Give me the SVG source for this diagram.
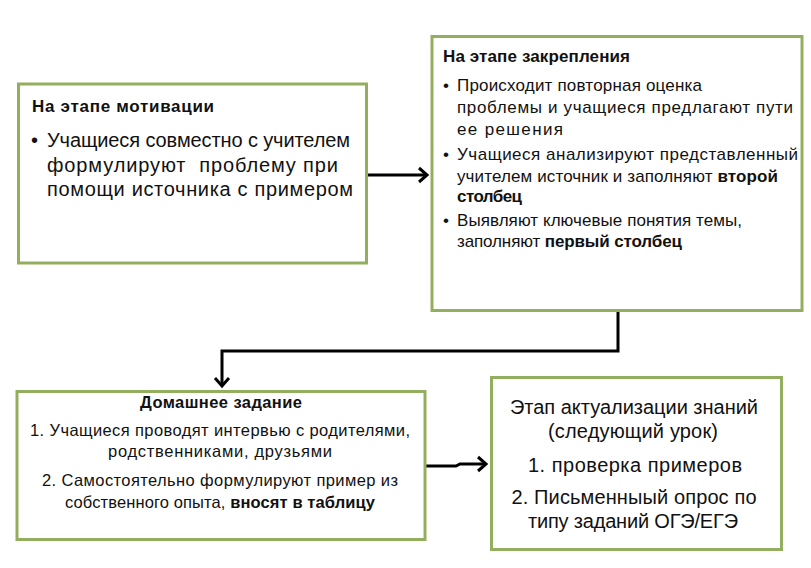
<svg xmlns="http://www.w3.org/2000/svg" width="811" height="568" viewBox="0 0 811 568">
<style>
.box{fill:#ffffff;stroke:#94AE5F;stroke-width:3}
text{font-family:"Liberation Sans",Arial,sans-serif;fill:#111111}
.b{font-weight:bold}
.t{font-weight:bold;font-size:17px}
.f20{font-size:20px}
.f17{font-size:17px}
.f16{font-size:16.5px}
.c{text-anchor:middle}
.conn{fill:none;stroke:#000000;stroke-width:3}
</style>
<defs>
<marker id="arr" markerUnits="userSpaceOnUse" markerWidth="16" markerHeight="18" refX="10" refY="9" orient="auto">
<path d="M2,2 L10,9 L2,16" fill="none" stroke="#000000" stroke-width="3"/>
</marker>
</defs>
<rect width="811" height="568" fill="#ffffff"/>
<g id="connectors">
<path class="conn" d="M367,175 H427" marker-end="url(#arr)"/>
<path class="conn" d="M618,311 V351 H222 V386" marker-end="url(#arr)"/>
<path class="conn" d="M425,466 H456 L460,464 H486" marker-end="url(#arr)"/>
</g>
<g id="motivation">
<rect class="box" x="18.5" y="84" width="348" height="179"/>
<text class="t" x="32" y="112" textLength="182">На этапе мотивации</text>
<text class="f20" x="31" y="147">•</text>
<text class="f20" x="47" y="147" textLength="303">Учащиеся совместно с учителем</text>
<text class="f20" x="47" y="172" textLength="291" xml:space="preserve">формулируют  проблему при</text>
<text class="f20" x="47" y="196" textLength="306">помощи источника с примером</text>
</g>
<g id="consolidation">
<rect class="box" x="432" y="36.5" width="370" height="274"/>
<text class="t" x="443" y="62" textLength="187">На этапе закрепления</text>
<text class="f17" x="443" y="91">•</text>
<text class="f17" x="457" y="91" textLength="245">Происходит повторная оценка</text>
<text class="f17" x="457" y="113" textLength="336">проблемы и учащиеся предлагают пути</text>
<text class="f17" x="457" y="135" textLength="106">ее решения</text>
<text class="f17" x="443" y="160">•</text>
<text class="f17" x="457" y="160" textLength="341">Учащиеся анализируют представленный</text>
<text class="f17" x="457" y="182" textLength="321">учителем источник и заполняют <tspan class="b">второй</tspan></text>
<text class="f17 b" x="457" y="202" textLength="65">столбец</text>
<text class="f17" x="443" y="226">•</text>
<text class="f17" x="457" y="226" textLength="285">Выявляют ключевые понятия темы,</text>
<text class="f17" x="457" y="247" textLength="225">заполняют <tspan class="b">первый столбец</tspan></text>
</g>
<g id="homework">
<rect class="box" x="17" y="391.5" width="408" height="148"/>
<text class="f16 b c" x="221" y="408" textLength="162">Домашнее задание</text>
<text class="f16 c" x="220" y="436" textLength="380">1. Учащиеся проводят интервью с родителями,</text>
<text class="f16 c" x="220" y="457" textLength="224">родственниками, друзьями</text>
<text class="f16 c" x="220" y="486" textLength="356">2. Самостоятельно формулируют пример из</text>
<text class="f16 c" x="220" y="508" textLength="310">собственного опыта, <tspan class="b">вносят в таблицу</tspan></text>
</g>
<g id="actualization">
<rect class="box" x="491.5" y="377.5" width="290" height="172"/>
<text class="f20 c" x="634" y="414" textLength="248">Этап актуализации знаний</text>
<text class="f20 c" x="633" y="438" textLength="170">(следующий урок)</text>
<text class="f20 c" x="635" y="472" textLength="214">1. проверка примеров</text>
<text class="f20 c" x="634" y="504" textLength="245">2. Письменныый опрос по</text>
<text class="f20 c" x="633" y="528" textLength="210">типу заданий ОГЭ/ЕГЭ</text>
</g>
</svg>
